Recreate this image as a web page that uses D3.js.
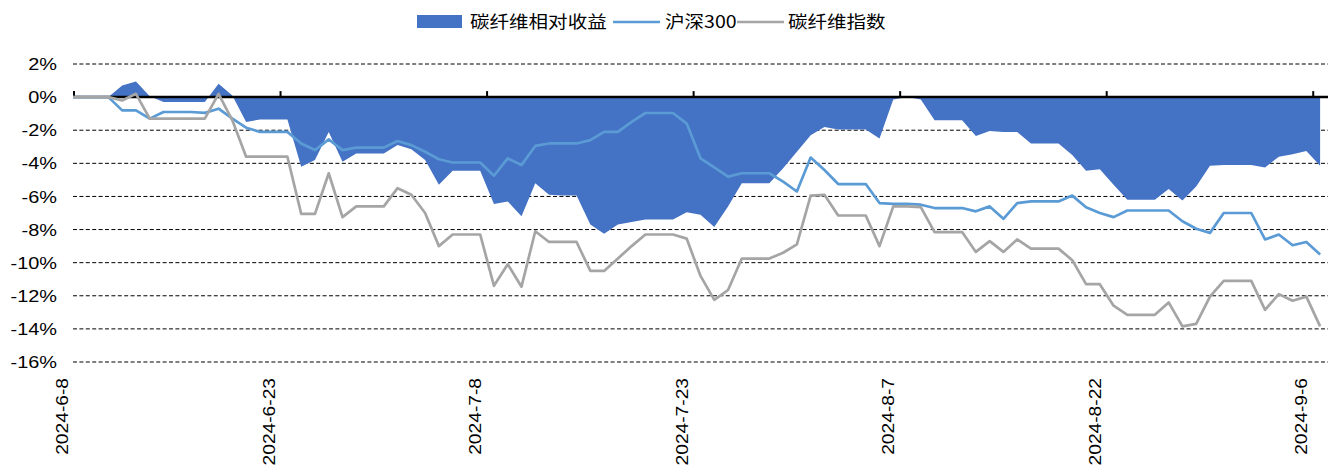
<!DOCTYPE html>
<html lang="zh">
<head>
  <meta charset="utf-8">
  <script src="https://d3js.org/d3.v7.min.js"></script>
  <style>
    body { margin: 0; background: #fff; }
    .tick-label { font-family: "Liberation Sans", Arial, sans-serif; fill: #000; }
    .legend-text { font-family: "Noto Sans CJK SC", sans-serif; font-size: 17px; fill: #000; }
  </style>
</head>
<body>
  <svg id="chart" width="1340" height="473"></svg>

  <script>
    // daily values from 2024-6-7 to 2024-9-6 (weekends carry the Friday value)
    var startDate = new Date(2024, 5, 7);
    var endDate = new Date(2024, 8, 7);

    var relative = [0,
      0, 0, 0, 0.7, 0.95, 0.05, -0.3, -0.3, -0.3, -0.3,
      0.8, 0.1, -1.5, -1.35, -1.35, -1.35, -4.2, -3.8, -2.1, -3.9,
      -3.4, -3.4, -3.4, -2.9, -3.15, -3.8, -5.3, -4.45, -4.45, -4.45,
      -6.45, -6.3, -7.2, -5.2, -5.9, -5.95, -5.95, -7.7, -8.25, -7.7,
      -7.55, -7.4, -7.4, -7.4, -6.95, -7.1, -7.85, -6.6, -5.2, -5.2,
      -5.2, -4.3, -3.3, -2.3, -1.8, -1.95, -1.95, -1.95, -2.5, -0.15,
      0, -0.15, -1.4, -1.4, -1.4, -2.35, -2.05, -2.1, -2.1, -2.8,
      -2.8, -2.8, -3.5, -4.45, -4.35, -5.3, -6.2, -6.2, -6.2, -5.55,
      -6.25, -5.4, -4.15, -4.1, -4.1, -4.1, -4.25, -3.6, -3.45, -3.25,
      -4.15];

    var hs300 = [0,
      0, 0, 0, -0.8, -0.8, -1.3, -0.9, -0.9, -0.9, -0.95,
      -0.7, -1.3, -1.85, -2.1, -2.1, -2.1, -2.8, -3.2, -2.55, -3.2,
      -3.05, -3.05, -3.05, -2.65, -2.9, -3.3, -3.75, -3.95, -3.95, -3.95,
      -4.75, -3.7, -4.1, -2.95, -2.8, -2.8, -2.8, -2.6, -2.1, -2.1,
      -1.5, -0.96, -0.96, -0.96, -1.6, -3.7, -4.25, -4.8, -4.6, -4.6,
      -4.6, -5.1, -5.7, -3.65, -4.4, -5.25, -5.25, -5.25, -6.4, -6.45,
      -6.45, -6.5, -6.7, -6.7, -6.7, -6.9, -6.6, -7.35, -6.4, -6.3,
      -6.3, -6.3, -5.95, -6.65, -7.0, -7.25, -6.85, -6.85, -6.85, -6.85,
      -7.5, -7.95, -8.2, -7.0, -7.0, -7.0, -8.6, -8.3, -8.95, -8.75,
      -9.5];

    var carbonIndex = [0,
      0, 0, 0, -0.2, 0.2, -1.3, -1.3, -1.3, -1.3, -1.3,
      0.2, -1.4, -3.6, -3.6, -3.6, -3.6, -7.05, -7.05, -4.6, -7.25,
      -6.6, -6.6, -6.6, -5.5, -5.9, -7.0, -9.0, -8.3, -8.3, -8.3,
      -11.4, -10.1, -11.45, -8.1, -8.75, -8.75, -8.75, -10.5, -10.5, -9.75,
      -9.0, -8.3, -8.3, -8.3, -8.55, -10.8, -12.25, -11.65, -9.75, -9.75,
      -9.75, -9.4, -8.9, -5.95, -5.9, -7.15, -7.15, -7.15, -9.0, -6.6,
      -6.6, -6.65, -8.15, -8.15, -8.15, -9.35, -8.7, -9.35, -8.6, -9.15,
      -9.15, -9.15, -9.85, -11.3, -11.3, -12.6, -13.15, -13.15, -13.15, -12.4,
      -13.85, -13.7, -12.05, -11.1, -11.1, -11.1, -12.85, -11.9, -12.3, -12.05,
      -13.85];

    var yTicks = [2, 0, -2, -4, -6, -8, -10, -12, -14, -16];
    var xTickDates = ["2024-6-8", "2024-6-23", "2024-7-8", "2024-7-23", "2024-8-7", "2024-8-22", "2024-9-6"];
    var seriesNames = ["碳纤维相对收益", "沪深300", "碳纤维指数"];

    var colors = ["#4472C4", "#5B9BD5", "#A5A5A5"];

    var dates = d3.timeDay.range(startDate, endDate);
    var rows = dates.map(function (d, i) {
      return { date: d, rel: relative[i], hs: hs300[i], cf: carbonIndex[i] };
    });

    var svg = d3.select("#chart");

    var plot = { left: 74, right: 1327, top: 64, bottom: 362 };

    var x = d3.scaleTime()
      .domain([new Date(2024, 5, 8), endDate])
      .range([plot.left, plot.right]);

    var y = d3.scaleLinear()
      .domain([-16, 2])
      .range([plot.bottom, plot.top]);

    // points sit in the middle of each day slot
    function xMid(d) { return x(d3.timeHour.offset(d, 12)); }

    svg.append("defs").append("clipPath")
      .attr("id", "plotClip")
      .append("rect")
      .attr("x", plot.left - 1)
      .attr("y", 0)
      .attr("width", plot.right - plot.left + 3)
      .attr("height", 473);

    // dashed gridlines
    svg.append("g")
      .selectAll("line")
      .data(yTicks.filter(function (t) { return t !== 0; }))
      .enter()
      .append("line")
      .attr("x1", plot.left - 1)
      .attr("x2", plot.right + 1)
      .attr("y1", function (d) { return y(d); })
      .attr("y2", function (d) { return y(d); })
      .attr("stroke", "#000")
      .attr("stroke-width", 1)
      .attr("stroke-dasharray", "4,2.4");

    // y labels
    svg.append("g")
      .selectAll("text")
      .data(yTicks)
      .enter()
      .append("text")
      .attr("class", "tick-label")
      .attr("transform", function (d) { return "translate(57," + y(d) + ") scale(1.17,1)"; })
      .attr("dy", "0.36em")
      .attr("text-anchor", "end")
      .style("font-size", "17px")
      .text(function (d) { return d + "%"; });

    var area = d3.area()
      .x(function (d) { return xMid(d.date); })
      .y0(y(0))
      .y1(function (d) { return y(d.rel); });

    svg.append("g")
      .attr("clip-path", "url(#plotClip)")
      .append("path")
      .datum(rows)
      .attr("d", area)
      .attr("fill", colors[0]);

    // zero axis line with ticks
    svg.append("line")
      .attr("x1", plot.left - 1)
      .attr("x2", plot.right + 1)
      .attr("y1", y(0))
      .attr("y2", y(0))
      .attr("stroke", "#000")
      .attr("stroke-width", 2.5);

    var parseTick = d3.timeParse("%Y-%m-%d");

    svg.append("g")
      .selectAll("line")
      .data(xTickDates)
      .enter()
      .append("line")
      .attr("x1", function (d) { return x(parseTick(d)); })
      .attr("x2", function (d) { return x(parseTick(d)); })
      .attr("y1", y(0) - 6)
      .attr("y2", y(0))
      .attr("stroke", "#000")
      .attr("stroke-width", 2);

    var lineHs = d3.line()
      .x(function (d) { return xMid(d.date); })
      .y(function (d) { return y(d.hs); });

    var lineCf = d3.line()
      .x(function (d) { return xMid(d.date); })
      .y(function (d) { return y(d.cf); });

    var lines = svg.append("g").attr("clip-path", "url(#plotClip)");

    lines.append("path")
      .datum(rows)
      .attr("d", lineHs)
      .attr("fill", "none")
      .attr("stroke", colors[1])
      .attr("stroke-width", 2.7)
      .attr("stroke-linejoin", "round");

    lines.append("path")
      .datum(rows)
      .attr("d", lineCf)
      .attr("fill", "none")
      .attr("stroke", colors[2])
      .attr("stroke-width", 2.7)
      .attr("stroke-linejoin", "round");

    // rotated date labels
    svg.append("g")
      .selectAll("text")
      .data(xTickDates)
      .enter()
      .append("text")
      .attr("class", "tick-label")
      .attr("transform", function (d) {
        return "translate(" + (x(parseTick(d)) - 6) + ",378) rotate(-90) scale(1.2,1)";
      })
      .attr("text-anchor", "end")
      .style("font-size", "16px")
      .text(function (d) { return d; });

    // legend
    var legendX = [417, 613, 737];
    var legendTextX = [470, 665, 788];
    var legendY = 22;

    var legend = svg.append("g");

    legend.append("rect")
      .attr("x", legendX[0])
      .attr("y", legendY - 7)
      .attr("width", 45)
      .attr("height", 13)
      .attr("fill", colors[0]);

    legend.selectAll("line")
      .data([1, 2])
      .enter()
      .append("line")
      .attr("x1", function (d) { return legendX[d]; })
      .attr("x2", function (d) { return legendX[d] + 47; })
      .attr("y1", legendY)
      .attr("y2", legendY)
      .attr("stroke", function (d) { return colors[d]; })
      .attr("stroke-width", 2.6);

    legend.selectAll("text")
      .data(seriesNames)
      .enter()
      .append("text")
      .attr("class", "legend-text")
      .attr("transform", function (d, i) { return "translate(" + legendTextX[i] + "," + legendY + ") scale(1.15,1)"; })
      .attr("dy", "0.35em")
      .text(function (d) { return d; });
  </script>
</body>
</html>
